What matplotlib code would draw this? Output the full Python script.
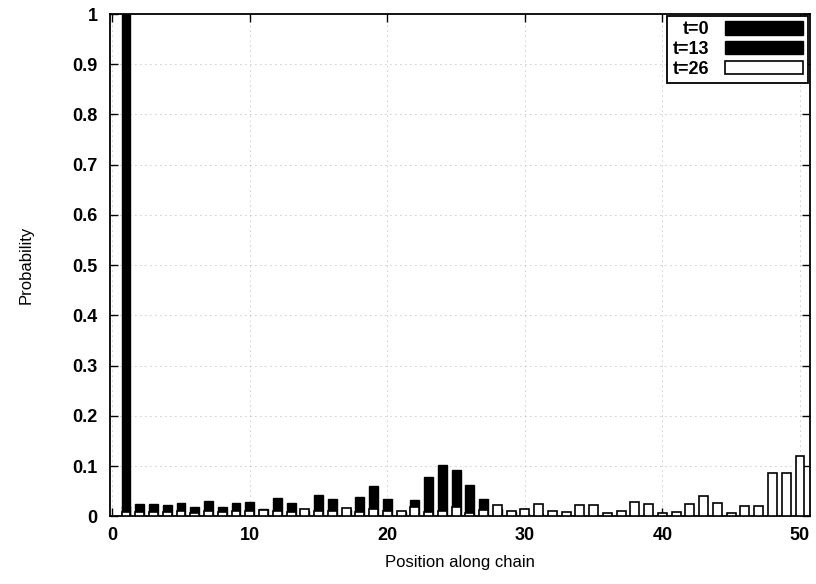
import numpy as np
import matplotlib
matplotlib.use("Agg")
import matplotlib.pyplot as plt

plt.rcParams['font.family'] = ['Liberation Sans', 'DejaVu Sans']

# positions along the chain
positions = list(range(1, 51))

# t=0: all probability at site 1
t0 = [1.0] + [0.0] * 49

# t=13 (black bars)
t13 = [0.020, 0.024, 0.025, 0.022, 0.027, 0.018, 0.030, 0.019, 0.026, 0.029,
       0.015, 0.036, 0.027, 0.010, 0.043, 0.035, 0.012, 0.038, 0.060, 0.035,
       0.009, 0.033, 0.078, 0.102, 0.092, 0.062, 0.035, 0.015, 0.008, 0.005,
       0.004, 0.003, 0.003, 0.002, 0.002, 0.002, 0.001, 0.001, 0.001, 0.001,
       0.001, 0.001, 0.001, 0.001, 0.001, 0.001, 0.001, 0.001, 0.001, 0.001]

# t=26 (white bars)
t26 = [0.008, 0.009, 0.009, 0.009, 0.010, 0.007, 0.010, 0.009, 0.010, 0.010,
       0.013, 0.010, 0.009, 0.015, 0.010, 0.010, 0.017, 0.009, 0.015, 0.011,
       0.011, 0.018, 0.008, 0.011, 0.018, 0.007, 0.013, 0.023, 0.011, 0.014,
       0.024, 0.011, 0.008, 0.023, 0.022, 0.006, 0.011, 0.028, 0.025, 0.006,
       0.008, 0.025, 0.040, 0.027, 0.006, 0.020, 0.020, 0.086, 0.086, 0.120]

fig = plt.figure(figsize=(8.16, 5.84), dpi=100)
ax = fig.add_axes([0.135, 0.116, 0.858, 0.86])

w = 0.65
ax.bar(positions, t0, width=w, color='black', edgecolor='black', lw=1.0,
       label='t=0', zorder=2)
ax.bar(positions, t13, width=w, color='black', edgecolor='black', lw=1.0,
       label='t=13', zorder=3)
ax.bar(positions, t26, width=w, color='white', edgecolor='black', lw=1.2,
       label='t=26', zorder=4)

ax.set_xlim(-0.15, 50.75)
ax.set_ylim(0, 1)
ax.set_xticks(np.arange(0, 51, 10))
ax.set_yticks(np.arange(0, 1.01, 0.1))
ax.set_yticklabels(['0', '0.1', '0.2', '0.3', '0.4', '0.5', '0.6', '0.7',
                    '0.8', '0.9', '1'])
ax.tick_params(direction='in', top=True, right=True, length=6, width=1.0,
               labelsize=13)
ax.tick_params(axis='x', pad=8)
ax.tick_params(axis='y', pad=9)
for lab in ax.get_xticklabels() + ax.get_yticklabels():
    lab.set_fontweight('bold')

ax.grid(True, linestyle=(0, (1, 5)), color='#999999', lw=0.6, zorder=0)
for s in ax.spines.values():
    s.set_linewidth(1.3)

ax.set_xlabel('Position along chain', fontsize=12, labelpad=8)
ax.set_ylabel('Probability', fontsize=12, labelpad=28)

leg = ax.legend(loc='upper right', markerfirst=False, handlelength=4.3,
                handleheight=0.75, fontsize=13, fancybox=False, framealpha=1,
                edgecolor='black', borderpad=0.3, labelspacing=0.15,
                handletextpad=0.9, borderaxespad=0.1)
leg.get_frame().set_linewidth(1.3)
for t in leg.get_texts():
    t.set_fontweight('bold')

fig.savefig('out.png', dpi=100)
